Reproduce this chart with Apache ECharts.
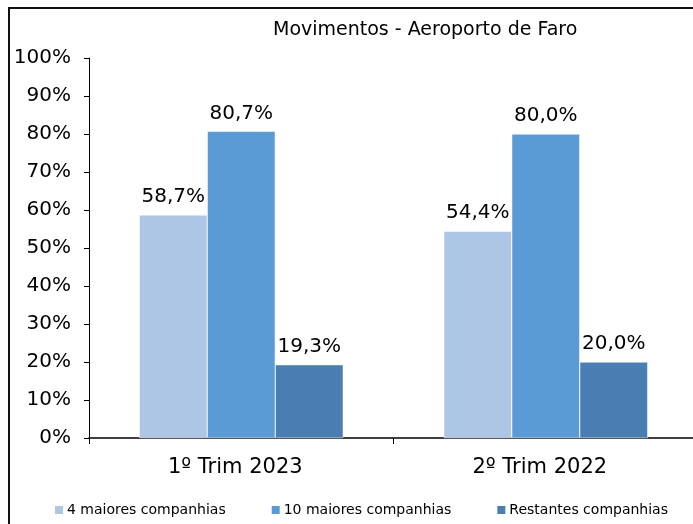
<!DOCTYPE html>
<html>
<head>
<meta charset="utf-8">
<script src="https://cdn.jsdelivr.net/npm/echarts@6/dist/echarts.min.js"></script>
<style>
html,body{margin:0;padding:0;background:#fff;overflow:hidden;}
#main{width:700px;height:524px;}
</style>
</head>
<body>
<div id="main"></div>
<script>
var categories = ['1º Trim 2023', '2º Trim 2022'];
var top4 = [58.7, 54.4];
var top10 = [80.7, 80.0];
var others = [19.3, 20.0];
var seriesNames = ['4 maiores companhias', '10 maiores companhias', 'Restantes companhias'];
var colors = ['#adc6e6', '#5b9bd5', '#4a7eb3'];

var font = 'DejaVu Sans';
function pct(v){ return v.toFixed(1).replace('.', ',') + '%'; }

var chart = echarts.init(document.getElementById('main'));
var dataSets = [top4, top10, others];

chart.setOption({
  animation: false,
  title: {
    text: 'Movimentos - Aeroporto de Faro',
    left: 268, top: 16,
    textStyle: {fontFamily: font, fontSize: 19, fontWeight: 'normal', color: '#000'}
  },
  graphic: [{
    type: 'rect',
    shape: {x: 9, y: 8, width: 800, height: 600},
    style: {fill: 'none', stroke: '#111', lineWidth: 2}
  }],
  legend: {
    bottom: 2, left: 48, width: 660,
    itemWidth: 10, itemHeight: 10, itemGap: 44,
    icon: 'rect',
    textStyle: {fontFamily: font, fontSize: 14, color: '#000', padding: [0, 0, 0, -2]},
    data: seriesNames
  },
  grid: {left: 89, width: 609, top: 58, bottom: 86, containLabel: false},
  xAxis: {
    type: 'category',
    data: categories,
    axisLine: {lineStyle: {color: '#000', width: 1.5}},
    axisTick: {show: true, length: 6, lineStyle: {color: '#000'}},
    axisLabel: {fontFamily: font, fontSize: 21, color: '#000', margin: 19, padding: [0, 12, 0, 0]}
  },
  yAxis: {
    type: 'value',
    min: 0, max: 100, interval: 10,
    splitLine: {show: false},
    axisLine: {show: true, lineStyle: {color: '#000', width: 1}},
    axisTick: {show: true, length: 5, lineStyle: {color: '#000'}},
    axisLabel: {fontFamily: font, fontSize: 20, color: '#000', margin: 18, formatter: '{value}%'}
  },
  series: seriesNames.map(function(name, i){
    return {
      name: name,
      type: 'bar',
      data: dataSets[i],
      barGap: '0%',
      barCategoryGap: '33%',
      itemStyle: {color: colors[i], borderColor: '#fff', borderWidth: 0.5},
      label: {
        show: true, position: 'top', distance: 8,
        fontFamily: font, fontSize: 20, color: '#000',
        formatter: function(p){ return pct(p.value); }
      }
    };
  })
});
</script>
</body>
</html>
